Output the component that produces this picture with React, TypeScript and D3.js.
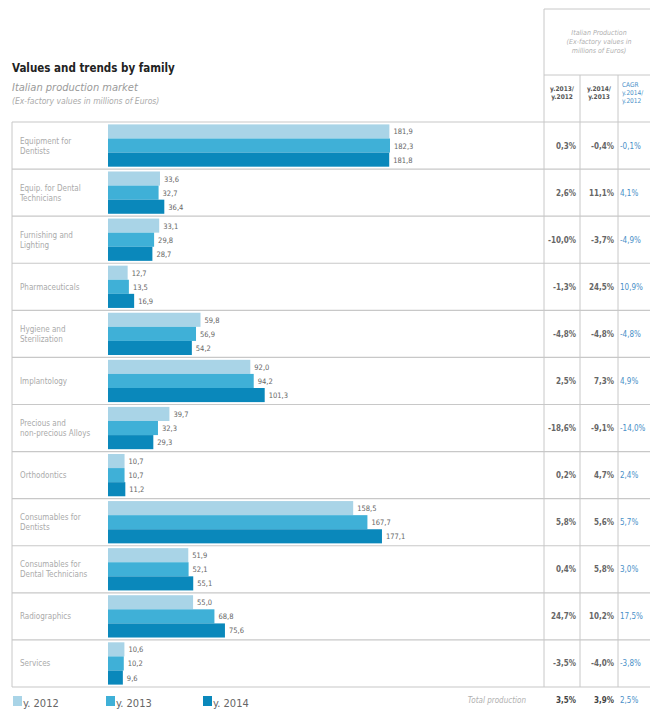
import React from "react";
import * as d3 from "d3";

// Product families (two-line labels split by "\n")
const categories = [
  "Equipment for\nDentists",
  "Equip. for Dental\nTechnicians",
  "Furnishing and\nLighting",
  "Pharmaceuticals",
  "Hygiene and\nSterilization",
  "Implantology",
  "Precious and\nnon-precious Alloys",
  "Orthodontics",
  "Consumables for\nDentists",
  "Consumables for\nDental Technicians",
  "Radiographics",
  "Services",
];

const years = ["y. 2012", "y. 2013", "y. 2014"];

// Ex-factory values, millions of Euros
const values2012 = [181.9, 33.6, 33.1, 12.7, 59.8, 92.0, 39.7, 10.7, 158.5, 51.9, 55.0, 10.6];
const values2013 = [182.3, 32.7, 29.8, 13.5, 56.9, 94.2, 32.3, 10.7, 167.7, 52.1, 68.8, 10.2];
const values2014 = [181.8, 36.4, 28.7, 16.9, 54.2, 101.3, 29.3, 11.2, 177.1, 55.1, 75.6, 9.6];

// Table of trends (percent)
const change1312 = ["0,3%", "2,6%", "-10,0%", "-1,3%", "-4,8%", "2,5%", "-18,6%", "0,2%", "5,8%", "0,4%", "24,7%", "-3,5%"];
const change1413 = ["-0,4%", "11,1%", "-3,7%", "24,5%", "-4,8%", "7,3%", "-9,1%", "4,7%", "5,6%", "5,8%", "10,2%", "-4,0%"];
const cagr = ["-0,1%", "4,1%", "-4,9%", "10,9%", "-4,8%", "4,9%", "-14,0%", "2,4%", "5,7%", "3,0%", "17,5%", "-3,8%"];
const totals = ["3,5%", "3,9%", "2,5%"];

const colors = ["#a9d4e7", "#3fb0d7", "#0a88bb"];
const font = "'Liberation Sans Narrow', 'DejaVu Sans Condensed', 'Arial Narrow', sans-serif";
const fmt = (v: number) => v.toFixed(1).replace(".", ",");

export default function App() {
  const W = 650;
  const H = 712;
  const left = 12;
  const top = 122;
  const bottom = 687;
  const colX = [544, 580, 618];

  const y = d3.scaleBand<string>().domain(categories).range([top, bottom]);
  const yInner = d3
    .scaleBand<string>()
    .domain(years)
    .range([0, y.bandwidth()])
    .paddingInner(0)
    .paddingOuter(0.17);
  const x = d3.scaleLinear().domain([0, 182.3]).range([108, 390]);

  const series = [values2012, values2013, values2014];
  const lineColor = "#c8c8c8";

  return (
    <svg width={W} height={H} style={{ position: "absolute", left: 0, top: 0, background: "#fff" }} fontFamily={font}>
      {/* Titles */}
      <text x={12} y={72} fontSize={11.5} fontWeight="bold" fill="#222">
        Values and trends by family
      </text>
      <text x={12} y={91} fontSize={11} fontStyle="italic" fill="#9a9a9a">
        Italian production market
      </text>
      <text x={12} y={104} fontSize={8.5} fontStyle="italic" fill="#aaa">
        (Ex-factory values in millions of Euros)
      </text>

      {/* Table header box */}
      <line x1={colX[0]} x2={W} y1={9} y2={9} stroke={lineColor} />
      <line x1={colX[0]} x2={W} y1={75} y2={75} stroke={lineColor} />
      <line x1={colX[0]} x2={colX[0]} y1={9} y2={bottom} stroke={lineColor} />
      <line x1={colX[1]} x2={colX[1]} y1={75} y2={bottom} stroke={lineColor} />
      <line x1={colX[2]} x2={colX[2]} y1={75} y2={bottom} stroke={lineColor} />
      {["Italian Production", "(Ex-factory values in", "millions of Euros)"].map((t, i) => (
        <text key={t} x={599} y={35 + i * 9} fontSize={7} fontStyle="italic" fill="#b0b0b0" textAnchor="middle">
          {t}
        </text>
      ))}
      {["y.2013/", "y.2012"].map((t, i) => (
        <text key={"a" + t} x={562} y={91 + i * 8} fontSize={6.5} fontWeight="bold" fill="#555" textAnchor="middle">
          {t}
        </text>
      ))}
      {["y.2014/", "y.2013"].map((t, i) => (
        <text key={"b" + t} x={599} y={91 + i * 8} fontSize={6.5} fontWeight="bold" fill="#555" textAnchor="middle">
          {t}
        </text>
      ))}
      {["CAGR", "y.2014/", "y.2012"].map((t, i) => (
        <text key={"c" + t} x={622} y={87 + i * 8} fontSize={6.5} fill="#4a90c8">
          {t}
        </text>
      ))}

      {/* Row frame */}
      <line x1={left} x2={left} y1={top} y2={bottom} stroke={lineColor} />
      {[...categories.map((c) => y(c)!), bottom].map((yy, i) => (
        <line key={i} x1={left} x2={W} y1={yy} y2={yy} stroke={lineColor} strokeWidth={1.2} />
      ))}

      {categories.map((c, ci) => {
        const y0 = y(c)!;
        const mid = y0 + y.bandwidth() / 2;
        const lines = c.split("\n");
        return (
          <g key={c}>
            {lines.map((l, li) => (
              <text
                key={li}
                x={20}
                y={mid + (li - (lines.length - 1) / 2) * 10 + 3}
                fontSize={8}
                fill="#aaa"
              >
                {l}
              </text>
            ))}
            {series.map((s, si) => {
              const by = y0 + yInner(years[si])!;
              const bh = yInner.bandwidth();
              return (
                <g key={si}>
                  <rect x={x(0)} y={by} width={x(s[ci]) - x(0)} height={bh} fill={colors[si]} />
                  <text x={x(s[ci]) + 4} y={by + bh / 2 + 3} fontSize={7.5} fill="#666">
                    {fmt(s[ci])}
                  </text>
                </g>
              );
            })}
            <text x={576} y={mid + 3} fontSize={8} fontWeight="bold" fill="#666" textAnchor="end">
              {change1312[ci]}
            </text>
            <text x={614} y={mid + 3} fontSize={8} fontWeight="bold" fill="#666" textAnchor="end">
              {change1413[ci]}
            </text>
            <text x={620} y={mid + 3} fontSize={8} fill="#4a90c8">
              {cagr[ci]}
            </text>
          </g>
        );
      })}

      {/* Totals */}
      <text x={526} y={703} fontSize={8} fontStyle="italic" fill="#b0b0b0" textAnchor="end">
        Total production
      </text>
      <text x={576} y={703} fontSize={8} fontWeight="bold" fill="#444" textAnchor="end">
        {totals[0]}
      </text>
      <text x={614} y={703} fontSize={8} fontWeight="bold" fill="#444" textAnchor="end">
        {totals[1]}
      </text>
      <text x={620} y={703} fontSize={8} fill="#4a90c8">
        {totals[2]}
      </text>

      {/* Legend */}
      {years.map((yr, i) => {
        const lx = [13, 106, 203][i];
        return (
          <g key={yr}>
            <rect x={lx} y={696} width={9} height={10} fill={colors[i]} />
            <text x={lx + 10} y={707} fontSize={11} fill="#666">
              {yr}
            </text>
          </g>
        );
      })}
    </svg>
  );
}
